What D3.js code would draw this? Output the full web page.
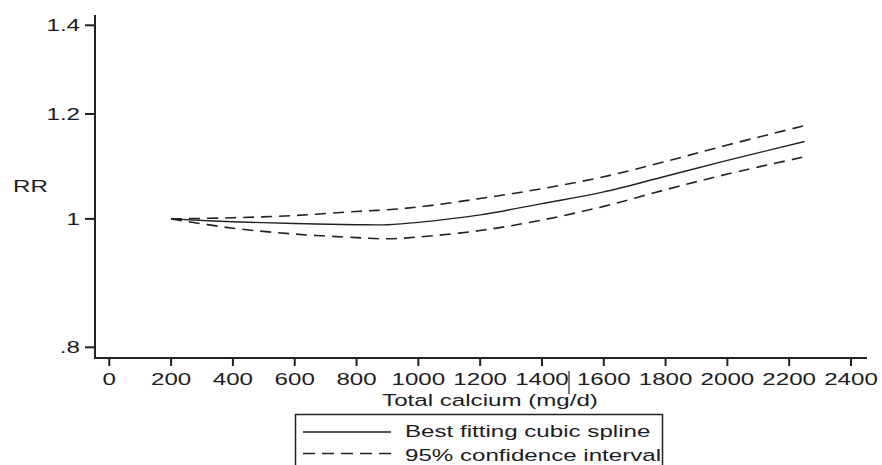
<!DOCTYPE html>
<html>
<head>
<meta charset="utf-8">
<script src="https://cdn.jsdelivr.net/npm/d3@7"></script>
<style>
html,body{margin:0;padding:0;background:#fff;}
svg{display:block;}
text{font-family:"Liberation Sans",Arial,Helvetica,sans-serif;fill:#1c1c24;}
</style>
</head>
<body>
<svg id="chart" width="882" height="465"></svg>
<script>
// ---- data ----
const calcium = [200, 400, 600, 800, 900, 1000, 1200, 1400, 1600, 1800, 2000, 2250];
const rrSpline = [1.000, 0.995, 0.992, 0.990, 0.990, 0.994, 1.007, 1.027, 1.048, 1.077, 1.107, 1.144];
const rrUpper  = [1.000, 1.002, 1.006, 1.013, 1.016, 1.021, 1.036, 1.054, 1.076, 1.105, 1.137, 1.176];
const rrLower  = [1.000, 0.984, 0.974, 0.968, 0.966, 0.969, 0.980, 0.998, 1.022, 1.052, 1.081, 1.114];
const xTicks = [0, 200, 400, 600, 800, 1000, 1200, 1400, 1600, 1800, 2000, 2200, 2400];
const yTicks = [0.8, 1, 1.2, 1.4];
const yTickLabels = [".8", "1", "1.2", "1.4"];
const legendLabels = ["Best fitting cubic spline", "95% confidence interval"];
const xTitle = "Total calcium (mg/d)";
const yTitle = "RR";

const svg = d3.select("#chart");
const SX = 1.42; // horizontal stretch of the original rendering
const ink = "#222";

const x = d3.scaleLinear().domain([0, 2400]).range([109.3, 851]);
const y = d3.scaleLog().domain([0.8, 1.4]).range([347.3, 25.3]);

function stext(g, str, px, py, anchor, size) {
  return g.append("text")
    .attr("transform", `translate(${px},${py}) scale(${SX},1)`)
    .attr("text-anchor", anchor)
    .style("font-size", (size || 17) + "px")
    .text(str);
}

// axes lines
svg.append("line").attr("x1", 95).attr("x2", 95).attr("y1", 15).attr("y2", 359)
  .attr("stroke", ink).attr("stroke-width", 2);
svg.append("line").attr("x1", 94).attr("x2", 867).attr("y1", 358).attr("y2", 358)
  .attr("stroke", ink).attr("stroke-width", 2);

// y ticks
const yg = svg.append("g");
yTicks.forEach((t, i) => {
  yg.append("line").attr("x1", 85).attr("x2", 95).attr("y1", y(t)).attr("y2", y(t))
    .attr("stroke", ink).attr("stroke-width", 2);
  stext(yg, yTickLabels[i], 80, y(t) + 6, "end");
});

// x ticks
const xg = svg.append("g");
xTicks.forEach(t => {
  xg.append("line").attr("x1", x(t)).attr("x2", x(t)).attr("y1", 358).attr("y2", 366)
    .attr("stroke", ink).attr("stroke-width", 2);
  stext(xg, String(t), x(t), 385, "middle");
});

// titles
stext(svg, xTitle, 490, 406, "middle");
stext(svg, yTitle, 13, 192, "start");

// small vertical mark present in the reference
svg.append("line").attr("x1", 569).attr("x2", 569).attr("y1", 371).attr("y2", 394)
  .attr("stroke", "#333").attr("stroke-width", 1.3);

// curves
const line = d3.line().x((d, i) => x(calcium[i])).y(d => y(d)).curve(d3.curveCatmullRom.alpha(0.5));
svg.append("path").datum(rrUpper).attr("d", line)
  .attr("fill", "none").attr("stroke", ink).attr("stroke-width", 1.6).attr("stroke-dasharray", "11,7");
svg.append("path").datum(rrLower).attr("d", line)
  .attr("fill", "none").attr("stroke", ink).attr("stroke-width", 1.6).attr("stroke-dasharray", "11,7");
svg.append("path").datum(rrSpline).attr("d", line)
  .attr("fill", "none").attr("stroke", ink).attr("stroke-width", 1.4);

// legend
const lg = svg.append("g");
lg.append("rect").attr("x", 295.5).attr("y", 414.5).attr("width", 367).attr("height", 70)
  .attr("fill", "#fff").attr("stroke", ink).attr("stroke-width", 1.5);
lg.append("line").attr("x1", 303).attr("x2", 391).attr("y1", 432).attr("y2", 432)
  .attr("stroke", ink).attr("stroke-width", 1.5);
lg.append("line").attr("x1", 303).attr("x2", 391).attr("y1", 453.5).attr("y2", 453.5)
  .attr("stroke", ink).attr("stroke-width", 1.5).attr("stroke-dasharray", "12,7");
stext(lg, legendLabels[0], 405, 437, "start");
stext(lg, legendLabels[1], 405, 460.5, "start");
</script>
</body>
</html>
